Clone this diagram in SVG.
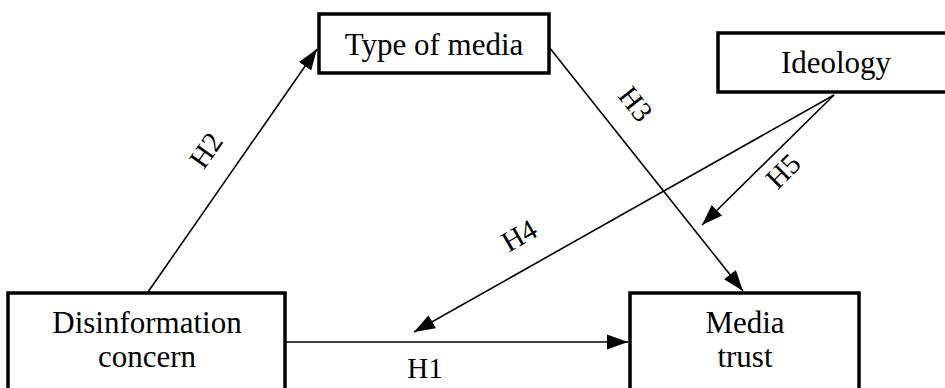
<svg xmlns="http://www.w3.org/2000/svg" width="945" height="388" viewBox="0 0 945 388">
<style>
.box{fill:#fff;stroke:#000;stroke-width:3.5}
.lbl{font-family:"Liberation Serif","DejaVu Serif",serif;font-size:31px;fill:#000;text-anchor:middle}
.h{font-family:"Liberation Serif","DejaVu Serif",serif;font-size:29px;fill:#000;text-anchor:middle}
.ln{stroke:#000;stroke-width:1.6;fill:none;marker-end:url(#ah)}
</style>
<defs>
<marker id="ah" markerUnits="userSpaceOnUse" markerWidth="22" markerHeight="18" viewBox="0 0 22 18" refX="21" refY="9" orient="auto">
<path d="M0,1.5 L21,9 L0,16.5 Z" fill="#000"/>
</marker>
</defs>
<rect width="945" height="388" fill="#fff"/>
<g id="connectors">
<line class="ln" x1="148" y1="292" x2="317" y2="49"/>
<line class="ln" x1="549" y1="47" x2="743" y2="291"/>
<line class="ln" x1="834" y1="95" x2="414" y2="332"/>
<line class="ln" x1="834" y1="95" x2="702" y2="225"/>
<line class="ln" x1="286" y1="342" x2="628" y2="342"/>
<text class="h" x="0" y="0" transform="translate(214,156) rotate(-55)">H2</text>
<text class="h" x="0" y="0" transform="translate(628,110) rotate(52)">H3</text>
<text class="h" x="0" y="0" transform="translate(524,244) rotate(-30)">H4</text>
<text class="h" x="0" y="0" transform="translate(790,178) rotate(-45)">H5</text>
<text class="h" x="425" y="378">H1</text>
</g>
<g id="type-of-media">
<rect class="box" x="319" y="14" width="230" height="59"/>
<text class="lbl" x="434" y="55">Type of media</text>
</g>
<g id="ideology">
<rect class="box" x="718" y="33" width="240" height="59"/>
<text class="lbl" x="836" y="73">Ideology</text>
</g>
<g id="disinformation-concern">
<rect class="box" x="8" y="293" width="277" height="110"/>
<text class="lbl" x="147" y="333">Disinformation</text>
<text class="lbl" x="147" y="367">concern</text>
</g>
<g id="media-trust">
<rect class="box" x="630" y="293" width="229" height="110"/>
<text class="lbl" x="745" y="333">Media</text>
<text class="lbl" x="745" y="367">trust</text>
</g>
</svg>
